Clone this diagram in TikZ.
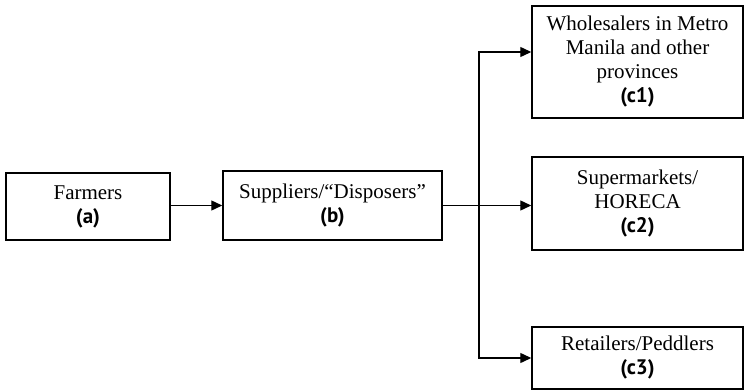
\documentclass[tikz,border=0pt]{standalone}
\usepackage{fontspec}
\setmainfont{Liberation Serif}
\newfontfamily\labfont{PT Sans}
\usetikzlibrary{arrows.meta}

\begin{document}
\begin{tikzpicture}[x=0.5pt,y=-0.5pt,
  stage/.style={draw,line width=0.75pt,align=center,inner sep=2pt,
    font=\fontsize{10.5}{12}\selectfont,minimum width=#1},
  flow/.style={line width=0.7pt,-{Triangle[length=5.5pt,width=5pt]}}]
\useasboundingbox (0,0) rectangle (744,390);
\node [stage=82pt,minimum height=33.5pt] (farm) at (88,206.5)
  {Farmers\\{\labfont\bfseries (a)}};
\node [stage=109.5pt,minimum height=34.5pt] (supp) at (332.5,205.5)
  {Suppliers/“Disposers”\\{\labfont\bfseries (b)}};
\node [stage=105.5pt,minimum height=56pt] (c1) at (637.5,62)
  {Wholesalers in Metro\\Manila and other\\provinces\\{\labfont\bfseries (c1)}};
\node [stage=105.5pt,minimum height=46.5pt] (c2) at (637.5,203.5)
  {Supermarkets/\\HORECA\\{\labfont\bfseries (c2)}};
\node [stage=105.5pt,minimum height=31pt] (c3) at (637.5,358)
  {Retailers/Peddlers\\{\labfont\bfseries (c3)}};
\coordinate (split) at (479,205);

\draw [flow] (farm.east |- supp.west) -- (supp.west);
\draw [flow] (supp.east) -- (supp.east -| c2.west);
\draw [flow] (split) |- ([yshift=5pt]c1.west);
\draw [flow] (split) |- (c3.west);
\end{tikzpicture}
\end{document}
